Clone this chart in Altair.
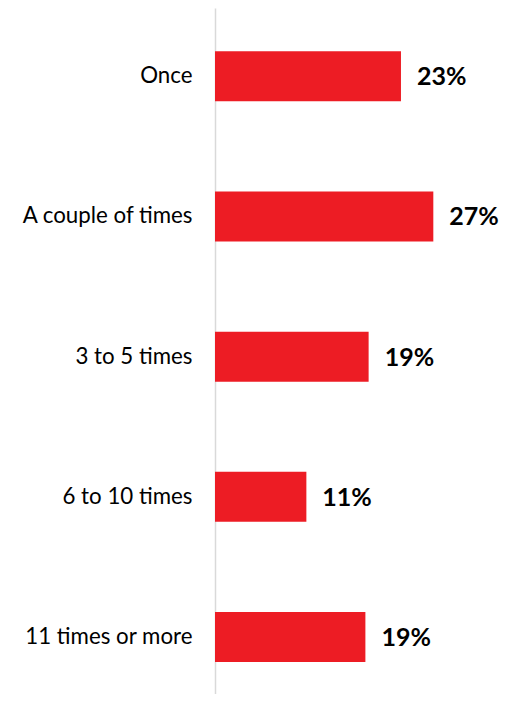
import altair as alt
import pandas as pd

categories = ["Once", "A couple of times", "3 to 5 times", "6 to 10 times", "11 times or more"]
values = [23.0, 27.0, 19.0, 11.3, 18.6]
labels = ["23%", "27%", "19%", "11%", "19%"]

df = pd.DataFrame({"cat": categories, "val": values, "lab": labels})

H = 686
W = 283

y = alt.Y("cat:N", sort=categories,
          scale=alt.Scale(paddingInner=0.6435, paddingOuter=0.268, align=0.575),
          axis=alt.Axis(title=None, ticks=False, labelPadding=23, labelFontSize=22.3,
                        labelFont="Lato", labelColor="#000000", domainColor="#d9d9d9",
                        domainWidth=1.5, labelLimit=300))
x = alt.X("val:Q", scale=alt.Scale(domain=[0, 35]), axis=None)

bars = alt.Chart(df).mark_bar(color="#ED1C24").encode(x=x, y=y)
text = alt.Chart(df).mark_text(align="left", baseline="middle", dx=16, dy=1,
                               font="Lato", fontWeight="bold", fontSize=25,
                               color="#000000").encode(x=x, y=y, text="lab:N")

chart = (bars + text).properties(
    width=W, height=H,
    autosize=alt.AutoSizeParams(type="none"),
    padding={"left": 207, "top": 0, "right": 4, "bottom": 0},
).configure_view(stroke=None).configure_axis(grid=False)

chart.save("out.html", embed_options={"renderer": "svg", "actions": False})
